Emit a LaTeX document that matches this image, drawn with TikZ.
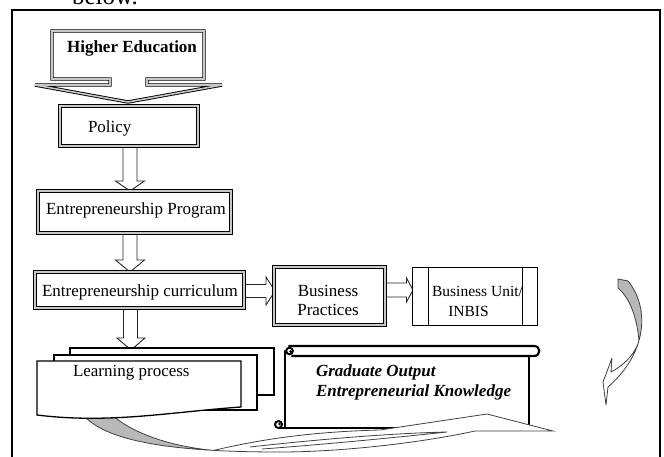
\documentclass[tikz,border=0pt]{standalone}
\usepackage{fontspec}
\setmainfont{Liberation Serif}
\usetikzlibrary{calc}
\pgfdeclarelayer{bg}
\pgfsetlayers{bg,main}
\newcommand\fsz{\fontsize{17}{20}\selectfont}
\begin{document}
\begin{tikzpicture}[x=1pt,y=-1pt,
  every node/.style={inner sep=0pt, outer sep=0pt, font=\fsz},
  dbox/.style={draw=black, line width=0.9pt, double=black!22, double distance=1.6pt, fill=white, miter limit=4},
  sbox/.style={draw=black, line width=1.3pt, fill=white},
  blk/.style={draw=black!85, line width=0.9pt, fill=white},
  doc/.style={draw=black, line width=1.3pt, fill=white},
  scrollln/.style={draw=black, line width=2.2pt, line cap=round, line join=round},
  curvln/.style={draw=black!75, line width=0.8pt},
  shade/.style={fill=black!28}]
\useasboundingbox (0,0) rectangle (664,456);
\clip (0,0) rectangle (664,456);

% text above the frame (cut off)
\node[anchor=base west, font=\fontsize{25}{28}\selectfont] (below) at (72,4) {below.};

% outer frame
\draw[line width=1.4pt] (12,10) rectangle (660,480);

% Higher Education callout
\draw[dbox] (52,31) -- (204,31) -- (204,79) -- (147,79) -- (147,85) -- (222,85) -- (128,102) -- (35,85) -- (110,85) -- (110,79) -- (52,79) -- cycle;
\node[anchor=base, font=\bfseries\fsz] (het) at (132,52) {Higher Education};

% boxes
\node[dbox, minimum width=138, minimum height=40] (policy) at (129,126) {};
\node[anchor=base west] (polt) at (88,132) {Policy};

\node[dbox, minimum width=193, minimum height=42] (prog) at (134.5,212) {};
\node[anchor=base] (progt) at (136,214) {Entrepreneurship Program};

\node[dbox, minimum width=209, minimum height=36] (curr) at (139.5,290) {};
\node[anchor=base] (currt) at (140,296) {Entrepreneurship curriculum};

\node[dbox, minimum width=111, minimum height=58] (bp) at (329.5,296) {};
\node[anchor=base] (bpt1) at (328,296) {Business};
\node[anchor=base] (bpt2) at (328,315) {Practices};

\node[sbox, minimum width=125, minimum height=58] (bu) at (475,296.5) {};
\draw[line width=1.3pt] ([xshift=16pt]bu.north west) -- ([xshift=16pt]bu.south west);
\draw[line width=1.3pt] ([xshift=-15pt]bu.north east) -- ([xshift=-15pt]bu.south east);
\node[anchor=base, font=\fontsize{15.5}{18}\selectfont] (but1) at (477.5,296) {Business Unit/};
\node[anchor=base, font=\fontsize{15.5}{18}\selectfont] (but2) at (468.5,316) {INBIS};

% scroll (Graduate Output)
\draw[scrollln] (285,351) -- (285,428);
\draw[scrollln] (279,428) -- (529,428) -- (529,356);
\draw[scrollln] (289,346) -- (534,346) .. controls (541,346) and (541,356) .. (534,356) -- (292,356);
\draw[line width=2pt] (289.5,351) circle[radius=3.3];
\fill (290.5,351.5) circle[radius=1.4];
\draw[line width=2pt] (278.5,424.5) circle[radius=3.5];
\fill (279.5,424) circle[radius=1.4];
\node[anchor=base west, font=\bfseries\itshape\fsz] (go1) at (316,376) {Graduate Output};
\node[anchor=base west, font=\bfseries\itshape\fsz] (go2) at (316,396) {Entrepreneurial Knowledge};

% bottom curved arrow (over the scroll, under the documents)
\def\botrib{(80,410) -- (107,410) .. controls (125,430) and (165,446) .. (213.6,450.4)
  .. controls (250,442) and (300,432) .. (380,430) -- (487,414) -- (553,431) -- (475,431)
  .. controls (420,443) and (340,452) .. (280,452) .. controls (190,452) and (100,445) .. (80,410) -- cycle}
\fill[white] \botrib;
\fill[shade] (107,410) .. controls (125,430) and (165,446) .. (213.6,450.4)
  .. controls (149.4,446.75) and (95,436.25) .. (80,410) -- cycle;
\draw[curvln] \botrib;
\draw[curvln] (250,447) .. controls (330,438) and (400,433) .. (447,432)
  .. controls (400,437) and (330,444) .. (262,449);

% learning process documents
\node[doc, minimum width=204, minimum height=47] (back) at (172,371.5) {};
\node[doc, minimum width=203, minimum height=55] (mid) at (155.5,382.5) {};
\draw[doc] (37,361) -- (241,361) -- (241,407) .. controls (170,412) and (110,424) .. (37,415) -- cycle;
\node[anchor=base west] (lpt) at (73,376) {Learning process};

% right curved arrow
\def\rrib{(618,279) -- (628,281) .. controls (640,295.4) and (645.5,317.4) .. (639,340.6)
  .. controls (634.6,356.1) and (624.8,372.2) .. (608,387) -- (606,405) -- (603,382) -- (612,358) -- (611,372)
  .. controls (626,364) and (636,352) .. (639,340.6) .. controls (637,318) and (630,298) .. (618,288) -- cycle}
\fill[white] \rrib;
\fill[shade] (618,279) -- (628,281) .. controls (640,295.4) and (645.5,317.4) .. (639,340.6)
  .. controls (637,318) and (630,298) .. (618,288) -- cycle;
\draw[curvln, line join=miter, miter limit=3] \rrib;

% block arrows between boxes
\begin{pgfonlayer}{bg}
\draw[blk] let \p1=(policy.south), \p2=(prog.north) in
  (123pt,\y1) -- (123pt,\y2+10pt) -- (115.5pt,\y2+10pt) -- (130pt,\y2) -- (144.5pt,\y2+10pt) -- (137pt,\y2+10pt) -- (137pt,\y1) -- cycle;
\draw[blk] let \p1=(prog.south), \p2=(curr.north) in
  (123pt,\y1) -- (123pt,\y2+12pt) -- (115.5pt,\y2+12pt) -- (130pt,\y2) -- (144.5pt,\y2+12pt) -- (137pt,\y2+12pt) -- (137pt,\y1) -- cycle;
\draw[blk] let \p1=(curr.south), \p2=(back.north) in
  (123.5pt,\y1) -- (123.5pt,\y2+10pt) -- (117pt,\y2+10pt) -- (131pt,\y2-2pt) -- (145pt,\y2+10pt) -- (137.5pt,\y2+10pt) -- (137.5pt,\y1) -- cycle;
\draw[blk] let \p1=(curr.east), \p2=(bp.west) in
  (\x1,-284.5pt) -- (\x2-8pt,-284.5pt) -- (\x2-8pt,-277pt) -- (\x2+1pt,-291pt) -- (\x2-8pt,-305pt) -- (\x2-8pt,-297.5pt) -- (\x1,-297.5pt) -- cycle;
\draw[blk] let \p1=(bp.east), \p2=(bu.west) in
  (\x1,-283pt) -- (\x2-6pt,-283pt) -- (\x2-6pt,-278pt) -- (\x2+0.5pt,-290pt) -- (\x2-6pt,-302pt) -- (\x2-6pt,-297pt) -- (\x1,-297pt) -- cycle;
\end{pgfonlayer}
\end{tikzpicture}
\end{document}
